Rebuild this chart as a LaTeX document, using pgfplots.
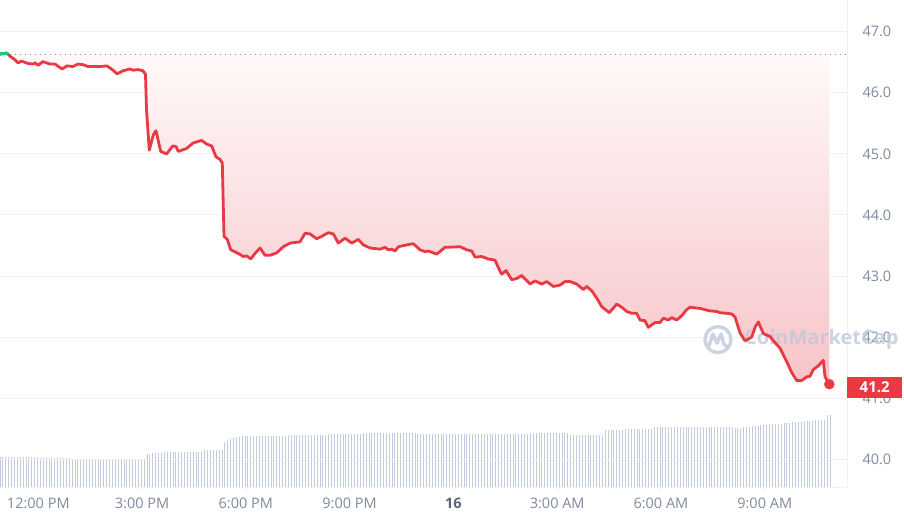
\documentclass[border=0pt]{standalone}
\usepackage{pgfplots}
\usepackage{pgfplotstable}
\pgfplotsset{compat=1.18}
\usepackage{fontspec}
\setmainfont{Open Sans}

\definecolor{cmcred}{HTML}{EA3943}
\definecolor{cmcgreen}{HTML}{16C784}
\definecolor{tickgrey}{HTML}{808A9D}
\definecolor{darkgrey}{HTML}{58667E}
\definecolor{gridgrey}{HTML}{EFF2F5}
\definecolor{volcol}{HTML}{C3CCDD}
\definecolor{wmcol}{HTML}{BFC8D9}
\definecolor{filltop}{HTML}{FFF9F9}
\definecolor{fillbot}{HTML}{F7C4C8}

% price: x = horizontal position in the chart (time), y = price
\pgfplotstableread{
x y
0 46.63
6.7 46.65
10 46.60
15 46.54
18 46.49
21.7 46.52
23 46.51
28 46.48
33 46.47
35 46.49
38 46.45
43 46.51
50 46.47
55 46.47
62 46.39
67 46.44
73 46.43
78 46.47
83 46.46
88 46.43
100 46.43
107 46.44
113 46.37
117 46.31
123 46.36
130 46.39
133 46.37
138 46.38
143 46.36
145.5 46.30
146.5 45.72
149.3 45.06
153.3 45.31
156 45.38
160.7 45.04
166.7 45.00
172.7 45.13
176 45.12
178.3 45.04
186.7 45.09
193.3 45.18
201.7 45.22
206.7 45.16
211.7 45.13
216 44.95
220 44.91
222.3 44.85
224 43.65
227.3 43.60
230.7 43.43
238.3 43.37
243.3 43.32
246.7 43.33
250.7 43.28
255 43.37
260 43.46
265 43.34
270 43.34
276.7 43.38
283.3 43.48
290 43.54
295 43.55
300 43.56
305 43.70
310 43.69
316.7 43.61
321.7 43.65
328.3 43.71
333.3 43.69
338.3 43.54
345 43.62
351.7 43.54
358.3 43.60
363.3 43.51
370 43.46
380 43.44
385 43.47
388.3 43.43
391.7 43.44
395 43.41
398.3 43.48
406.7 43.51
413.3 43.53
420 43.43
425 43.40
428.3 43.41
436.7 43.36
445 43.47
460 43.48
466.7 43.43
471.7 43.41
475 43.31
481.7 43.32
488.3 43.28
495 43.26
500 43.08
501.7 43.03
506 43.09
511.7 42.94
516.7 42.96
521.7 43.01
530 42.87
535 42.92
541.7 42.87
546.7 42.91
553.3 42.83
560 42.85
565 42.91
570 42.91
576.7 42.87
583.3 42.78
586.7 42.83
591.7 42.76
596.7 42.64
601.7 42.50
609.3 42.40
616.7 42.54
621.7 42.49
626.7 42.42
631.7 42.39
636.7 42.39
640 42.28
645 42.27
648.3 42.16
655 42.24
660 42.24
663.3 42.31
668.3 42.28
671.7 42.32
676.7 42.28
681.7 42.35
686.7 42.45
690 42.49
700 42.47
710 42.43
716.7 42.42
720 42.40
726.7 42.39
731.7 42.38
735 42.33
740 42.07
745 41.94
751.7 42.00
755 42.16
758.3 42.25
763.3 42.06
770 42.01
775 41.91
780 41.82
786.7 41.60
791.7 41.42
796.7 41.29
801.7 41.29
806.7 41.35
810 41.36
813.3 41.47
818.3 41.53
823.3 41.62
825 41.35
829.3 41.23
}\pricetab

% volume, one bar every 5 minutes (relative heights)
\pgfplotstableread[row sep=\\]{
v\\
30.3\\ 30\\ 30\\ 30\\ 29.8\\ 29.8\\ 30\\ 29.8\\ 29.8\\ 29.6\\ 29.6\\ 29.6\\
29.6\\ 29.5\\ 29.5\\ 29.5\\ 29.5\\ 29.3\\ 29.3\\ 29.3\\ 29.3\\ 29.3\\ 29.2\\ 29.2\\
29.2\\ 28\\ 28\\ 28\\ 28\\ 28\\ 28\\ 27.8\\ 27.8\\ 27.8\\ 27.8\\ 27.8\\
27.6\\ 27.6\\ 27.6\\ 27.6\\ 27.6\\ 27.5\\ 27.5\\ 27.5\\ 27.5\\ 27.5\\ 27.5\\ 27.5\\
27.5\\ 27.5\\ 27.5\\ 33.5\\ 33.5\\ 33.8\\ 34\\ 34.2\\ 34.5\\ 34.8\\ 35\\ 35\\
35\\ 35\\ 35\\ 35\\ 35.2\\ 35.2\\ 35.2\\ 35.2\\ 35.5\\ 35.5\\ 35.5\\ 36.7\\
36.7\\ 36.7\\ 36.7\\ 36.7\\ 36.7\\ 36.7\\ 45\\ 47\\ 48.5\\ 49.5\\ 50\\ 50.5\\
51\\ 51\\ 51\\ 51\\ 51\\ 51\\ 51\\ 51\\ 51\\ 51\\ 51\\ 51\\
51\\ 51\\ 51\\ 51\\ 52.3\\ 52.3\\ 52.3\\ 52.3\\ 52.3\\ 52.3\\ 52.3\\ 52.3\\
52.3\\ 52.3\\ 52.3\\ 52.3\\ 52.3\\ 52.3\\ 53.3\\ 53.3\\ 53.3\\ 53.3\\ 53.3\\ 53.3\\
53.3\\ 53.3\\ 53.3\\ 53.3\\ 53.3\\ 53.3\\ 54.3\\ 54.3\\ 54.3\\ 54.3\\ 54.3\\ 54.3\\
54.3\\ 54.3\\ 54.3\\ 54.3\\ 54.3\\ 54.3\\ 54.3\\ 54.3\\ 54.3\\ 54.3\\ 54.3\\ 54.3\\
54.3\\ 53.3\\ 53.3\\ 53.3\\ 53.3\\ 53.3\\ 53.3\\ 53.3\\ 53.3\\ 53.3\\ 53.3\\ 53.3\\
53.3\\ 52.7\\ 52.7\\ 52.7\\ 52.7\\ 52.7\\ 52.7\\ 52.7\\ 52.7\\ 52.7\\ 52.7\\ 52.7\\
52.7\\ 52.7\\ 52.7\\ 52.7\\ 52.7\\ 52.7\\ 52.7\\ 52.7\\ 52.7\\ 52.7\\ 52.7\\ 52.7\\
52.7\\ 52.7\\ 52.7\\ 52.7\\ 53.7\\ 53.7\\ 53.7\\ 53.7\\ 53.7\\ 53.7\\ 53.7\\ 53.7\\
53.7\\ 53.7\\ 53.7\\ 53.7\\ 53.7\\ 53.7\\ 52.3\\ 52.3\\ 52.3\\ 52.3\\ 52.3\\ 52.3\\
52.3\\ 52.3\\ 52.3\\ 52.3\\ 52.3\\ 52.3\\ 57\\ 57\\ 57\\ 57\\ 57\\ 57\\
57\\ 58\\ 58\\ 58\\ 58\\ 58\\ 58\\ 58\\ 58\\ 58\\ 58\\ 59.7\\
59.7\\ 59.7\\ 59.7\\ 59.7\\ 59.7\\ 59.7\\ 59.7\\ 59.7\\ 59.7\\ 59.7\\ 59.7\\ 59.7\\
59.7\\ 59.7\\ 59.7\\ 59.7\\ 59.7\\ 59.7\\ 59.7\\ 59.7\\ 59.7\\ 59.7\\ 59.7\\ 59.7\\
59.7\\ 59.7\\ 59.7\\ 59\\ 59\\ 59\\ 59.5\\ 60\\ 60.3\\ 60.6\\ 61\\ 61.3\\
62\\ 62\\ 62.3\\ 62.5\\ 62.7\\ 63\\ 63\\ 63.3\\ 63.7\\ 64\\ 64.3\\ 64.5\\
64.7\\ 65\\ 65.2\\ 65.5\\ 65.7\\ 66\\ 66.2\\ 66.5\\ 66.7\\ 67\\ 67\\ 72\\
72\\
}\voltab

\begin{document}
\begin{tikzpicture}
\path[use as bounding box] (0pt,0pt) rectangle (904pt,522pt);

% volume bars
\begin{axis}[
  at={(0pt,35pt)}, anchor=south west, scale only axis,
  width=847pt, height=487pt,
  xmin=0, xmax=847, ymin=0, ymax=487,
  hide axis,
]
\addplot[ycomb, draw=volcol, line width=0.8pt, mark=none]
  table[x expr=\coordindex*2.882, y=v] {\voltab};
\end{axis}

% price
\begin{axis}[
  at={(0pt,35pt)}, anchor=south west, scale only axis,
  width=847pt, height=487pt,
  xmin=0, xmax=847, ymin=39.547, ymax=47.519,
  clip mode=individual,
  separate axis lines,
  axis x line*=bottom, axis y line*=right,
  axis line style={draw=gridgrey, line width=1pt},
  ymajorgrids, grid style={draw=gridgrey, line width=1pt},
  ytick={40,41,...,47},
  xtick={38.3,142.1,245.8,349.6,453.4,557.2,660.9,764.7},
  xticklabels={12:00 PM,3:00 PM,6:00 PM,9:00 PM,{\textbf{\textcolor{darkgrey}{16}}},3:00 AM,6:00 AM,9:00 AM},
  tick align=outside,
  xtick style={draw=gridgrey, line width=1pt},
  ytick style={draw=none},
  major tick length=4pt,
  ticklabel style={font=\fontsize{14.5}{17}\selectfont, text=tickgrey},
  yticklabel style={anchor=west, xshift=8pt},
  xticklabel style={yshift=-3pt},
  /pgf/number format/assume math mode=true,
  yticklabel={\pgfmathprintnumber[fixed,fixed zerofill,precision=1]{\tick}},
]
% shaded area between the price line and the opening level
\addplot[draw=none, top color=filltop, bottom color=fillbot, forget plot]
  table[x=x,y=y] {\pricetab} -- (axis cs:829.3,46.63) -- (axis cs:0,46.63) -- cycle;

\addplot[tickgrey, line width=1.2pt, dash pattern=on 1.2pt off 3.8pt] coordinates {(0,46.63) (847,46.63)};

% watermark
\draw[wmcol, line width=3.4pt, opacity=0.8] (axis cs:718,41.96) circle[radius=13pt];
\draw[wmcol, line width=3.4pt, opacity=0.8, line cap=round, line join=round]
  (axis cs:709,41.86) -- (axis cs:713,42.05) -- (axis cs:717,41.90) -- (axis cs:721,42.05) -- (axis cs:724,41.88) -- (axis cs:728,41.84);
\node[anchor=west, text=wmcol, opacity=0.8, inner sep=0pt, font=\bfseries\fontsize{20}{24}\selectfont] at (axis cs:744,41.96) {CoinMarketCap};

\addplot[cmcred, line width=2.8pt, line join=round] table[x=x,y=y] {\pricetab};
\addplot[cmcgreen, line width=2.8pt] coordinates {(0,46.64) (6.7,46.65) (8.5,46.63)};
\addplot[only marks, mark=*, mark size=5pt, cmcred] coordinates {(829.3,41.23)};

\node[anchor=west, fill=cmcred, text=white, minimum width=55pt, minimum height=21pt, inner sep=0pt,
  font=\bfseries\fontsize{15}{17}\selectfont] at (axis cs:847,41.18) {41.2};
\end{axis}
\end{tikzpicture}
\end{document}
